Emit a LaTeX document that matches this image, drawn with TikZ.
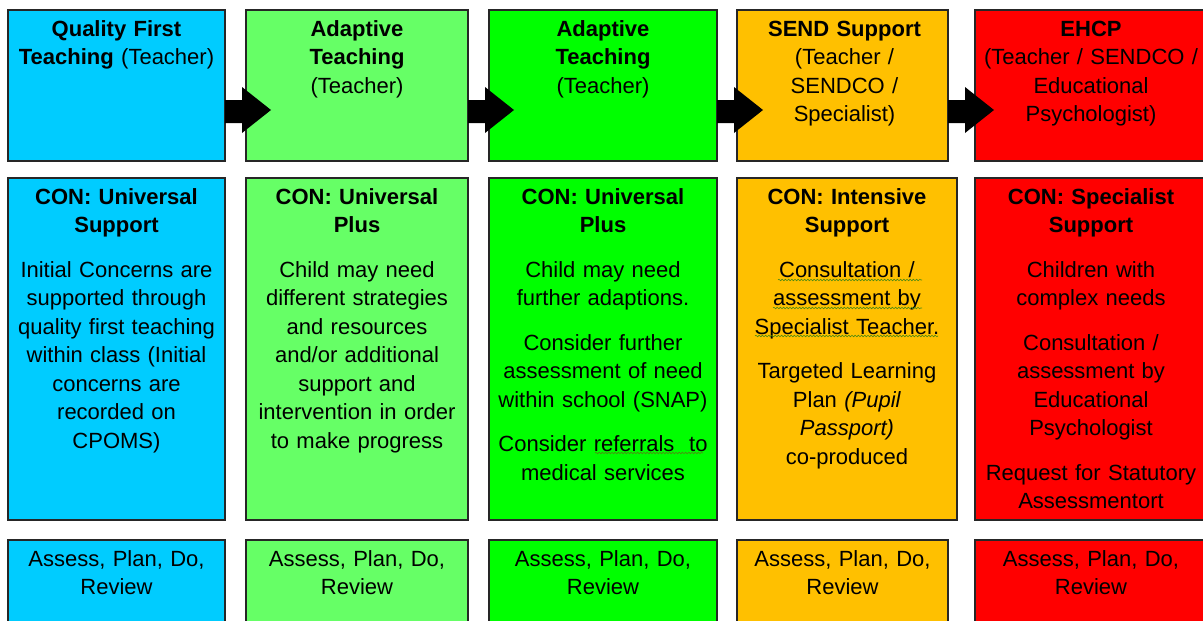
\documentclass[tikz,border=0pt]{standalone}
\usepackage{fontspec}
\setmainfont{Liberation Sans}
\usetikzlibrary{calc,decorations.pathmorphing}
\definecolor{qftblue}{HTML}{00CCFF}
\definecolor{adaptlight}{HTML}{66FF66}
\definecolor{adaptgreen}{HTML}{00FF00}
\definecolor{sendamber}{HTML}{FFC000}
\definecolor{ehcpred}{HTML}{FF0000}
\definecolor{boxedge}{HTML}{262626}
\definecolor{squiggle}{HTML}{4E8A12}
\begin{document}
\begin{tikzpicture}[x=1pt,y=-1pt,
  stage/.style={draw=boxedge, line width=1.4pt, fill=#1, inner sep=0pt, outer sep=0pt},
  label/.style={anchor=base, align=center, inner sep=0pt, text width=#1,
    font=\fontsize{22}{28.5}\selectfont},
  blockarrow/.style={fill=black},
  squig/.style={draw=squiggle, line width=0.6pt, decorate,
    decoration={snake, amplitude=0.8pt, segment length=3.2pt}}]
\useasboundingbox (0,0) rectangle (1203,621);
\clip (0,0) rectangle (1203,621);

% top row: who leads each stage
\node[stage=qftblue,    minimum width=217, minimum height=151] (t1) at (116.5,85.5) {};
\node[stage=adaptlight, minimum width=222, minimum height=151] (t2) at (357,85.5) {};
\node[stage=adaptgreen, minimum width=228, minimum height=151] (t3) at (603,85.5) {};
\node[stage=sendamber,  minimum width=211, minimum height=151] (t4) at (842.5,85.5) {};
\node[stage=ehcpred,    minimum width=232, minimum height=151] (t5) at (1091,85.5) {};

% middle row: continuum descriptions
\node[stage=qftblue,    minimum width=217, minimum height=342] (m1) at (116.5,349) {};
\node[stage=adaptlight, minimum width=222, minimum height=342] (m2) at (357,349) {};
\node[stage=adaptgreen, minimum width=228, minimum height=342] (m3) at (603,349) {};
\node[stage=sendamber,  minimum width=220, minimum height=342] (m4) at (847,349) {};
\node[stage=ehcpred,    minimum width=232, minimum height=342] (m5) at (1091,349) {};

% bottom row: graduated approach cycle
\node[stage=qftblue,    minimum width=217, minimum height=110] (b1) at (116.5,595) {};
\node[stage=adaptlight, minimum width=222, minimum height=110] (b2) at (357,595) {};
\node[stage=adaptgreen, minimum width=228, minimum height=110] (b3) at (603,595) {};
\node[stage=sendamber,  minimum width=211, minimum height=110] (b4) at (842.5,595) {};
\node[stage=ehcpred,    minimum width=232, minimum height=110] (b5) at (1091,595) {};

% block arrows between the stages of the top row
\foreach \a in {t1,t2,t3,t4}{
  \fill[blockarrow] ($(\a.east)+(0,14.5)$) -- ++(17,0) -- ++(0,-13) -- ++(29,23)
    -- ++(-29,23) -- ++(0,-10) -- ++(-17,0) -- cycle;
}

% top row texts
\node[label=215] (t1t) at ($(t1.north)+(0,26)$) {\textbf{Quality First}\\\textbf{Teaching} (Teacher)};
\node[label=215] (t2t) at ($(t2.north)+(0,26)$) {\textbf{Adaptive}\\\textbf{Teaching}\\(Teacher)};
\node[label=215] (t3t) at ($(t3.north)+(0,26)$) {\textbf{Adaptive}\\\textbf{Teaching}\\(Teacher)};
\node[label=210] (t4t) at ($(t4.north)+(2,26)$) {\textbf{SEND Support}\\(Teacher /\\SENDCO /\\Specialist)};
\node[label=230] (t5t) at ($(t5.north)+(0,26)$) {\textbf{EHCP}\\(Teacher / SENDCO /\\Educational\\Psychologist)};

% middle row texts
\node[label=215] (m1t) at ($(m1.north)+(0,26)$) {\textbf{CON: Universal}\\\textbf{Support}\\[16pt]
  Initial Concerns are\\supported through\\quality first teaching\\within class (Initial\\concerns are\\recorded on\\CPOMS)};
\node[label=220] (m2t) at ($(m2.north)+(0,26)$) {\textbf{CON: Universal}\\\textbf{Plus}\\[16pt]
  Child may need\\different strategies\\and resources\\and/or additional\\support and\\intervention in order\\to make progress};
\node[label=226] (m3t) at ($(m3.north)+(0,26)$) {\textbf{CON: Universal}\\\textbf{Plus}\\[16pt]
  Child may need\\further adaptions.\\[16pt]
  Consider further\\assessment of need\\within school (SNAP)\\[16pt]
  Consider referrals~ to\\medical services};
\node[label=218] (m4t) at ($(m4.north)+(0,26)$) {\textbf{CON: Intensive}\\\textbf{Support}\\[16pt]
  Consultation /\\assessment by\\Specialist Teacher.\\[16pt]
  Targeted Learning\\Plan \textit{(Pupil}\\\textit{Passport)}\\co-produced};
\node[label=230] (m5t) at ($(m5.north)+(0,26)$) {\textbf{CON: Specialist}\\\textbf{Support}\\[16pt]
  Children with\\complex needs\\[16pt]
  Consultation /\\assessment by\\Educational\\Psychologist\\[16pt]
  Request for Statutory\\Assessmentort};

% bottom row texts
\foreach \b in {b1,b2,b3,b4,b5}{
  \node[label=215] (\b t) at ($(\b.north)+(0,26)$) {Assess, Plan, Do,\\Review};
}

% proofing squiggles under flagged words
\draw[squig] (778,280) -- (922,280);
\draw[squig] (773,308) -- (922,308);
\draw[squig] (755,336) -- (938,336);
\draw[squig] (595,453) -- (703,453);
\end{tikzpicture}
\end{document}
